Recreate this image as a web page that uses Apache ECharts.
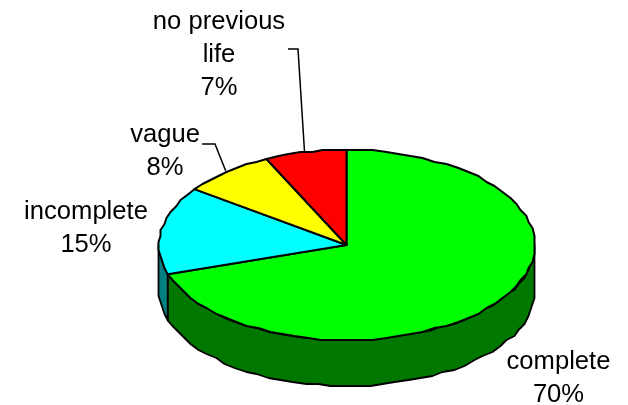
<!DOCTYPE html>
<html>
<head>
<meta charset="utf-8">
<style>html,body{margin:0;padding:0;background:#fff}#c{width:628px;height:405px}</style>
<script src="https://cdn.jsdelivr.net/npm/echarts@6/dist/echarts.min.js"></script>
</head>
<body>
<div id="c"></div>
<script>
const categories = ['complete', 'incomplete', 'vague', 'no previous\nlife'];
const shareValues = [70, 15, 8, 7];
const topColors = ['#00ff00', '#00ffff', '#ffff00', '#ff0000'];
const sideColors = ['#007800', '#008080', '#808000', '#800000'];

const layout = {
  cx: 346.5, cy: 245, rx: 188, ry: 95, depth: 46, grid: 2, stepDeg: 4,
  labelCenters: [[558.5, 378], [86, 228], [165, 151], [219, 55]],
  elbows: [null, null, [[202, 144], [215, 144]], [[288, 49], [298, 49]]]
};
const total = shareValues.reduce((a, b) => a + b, 0);
const pt = (deg, dy) => {
  const r = deg * Math.PI / 180;
  return [layout.cx + layout.rx * Math.sin(r), layout.cy - layout.ry * Math.cos(r) + (dy || 0)];
};
// the reference's rim is slightly rough: sample it coarsely on a small pixel grid
const snap = (p) => [
  Math.round(p[0] / layout.grid) * layout.grid + 0.5,
  Math.round(p[1] / layout.grid) * layout.grid
];
const arc = (a0, a1, dy) => {
  const out = [];
  const n = Math.max(2, Math.ceil(Math.abs(a1 - a0) / layout.stepDeg));
  for (let i = 0; i <= n; i++) {
    const p = pt(a0 + (a1 - a0) * i / n, dy);
    out.push(i === 0 || i === n ? p : snap(p));
  }
  return out;
};
const renderSlice = (params, api) => {
  const i = params.dataIndex;
  let before = 0;
  for (let k = 0; k < i; k++) before += shareValues[k];
  const a0 = before / total * 360;
  const a1 = (before + api.value(0)) / total * 360;
  const children = [];
  const w0 = Math.max(a0, 90), w1 = Math.min(a1, 270);
  if (w1 > w0) {
    const wall = arc(w0, w1, 0).concat(arc(w1, w0, layout.depth));
    children.push({
      type: 'polygon', shape: { points: wall },
      style: { fill: sideColors[i], stroke: '#000', lineWidth: 1.8, lineJoin: 'round' }
    });
  }
  const top = [[layout.cx, layout.cy]].concat(arc(a0, a1, 0));
  children.push({
    type: 'polygon', shape: { points: top }, z2: 2,
    style: { fill: topColors[i], stroke: '#000', lineWidth: 2, lineJoin: 'round' }
  });
  const elbow = layout.elbows[i];
  if (elbow) {
    const end = pt((a0 + a1) / 2);
    children.push({
      type: 'polyline', shape: { points: elbow.concat([[end[0] - 1, end[1] - 1]]) }, z2: 3,
      style: { fill: null, stroke: '#000', lineWidth: 1.5 }
    });
  }
  const c = layout.labelCenters[i];
  children.push({
    type: 'text', z2: 4, x: c[0], y: c[1],
    style: {
      text: categories[i] + '\n' + api.value(0) + '%',
      fill: '#000', font: '25.6px "Liberation Sans", Arial, sans-serif',
      lineHeight: 33, align: 'center', verticalAlign: 'middle'
    }
  });
  return { type: 'group', children };
};
const chart = echarts.init(document.getElementById('c'), null, { renderer: 'canvas' });
chart.setOption({
  animation: false,
  backgroundColor: '#ffffff',
  series: [{
    type: 'custom',
    coordinateSystem: 'none',
    renderItem: renderSlice,
    data: shareValues.map((v, i) => ({ name: categories[i], value: [v] }))
  }]
});
</script>
</body>
</html>
